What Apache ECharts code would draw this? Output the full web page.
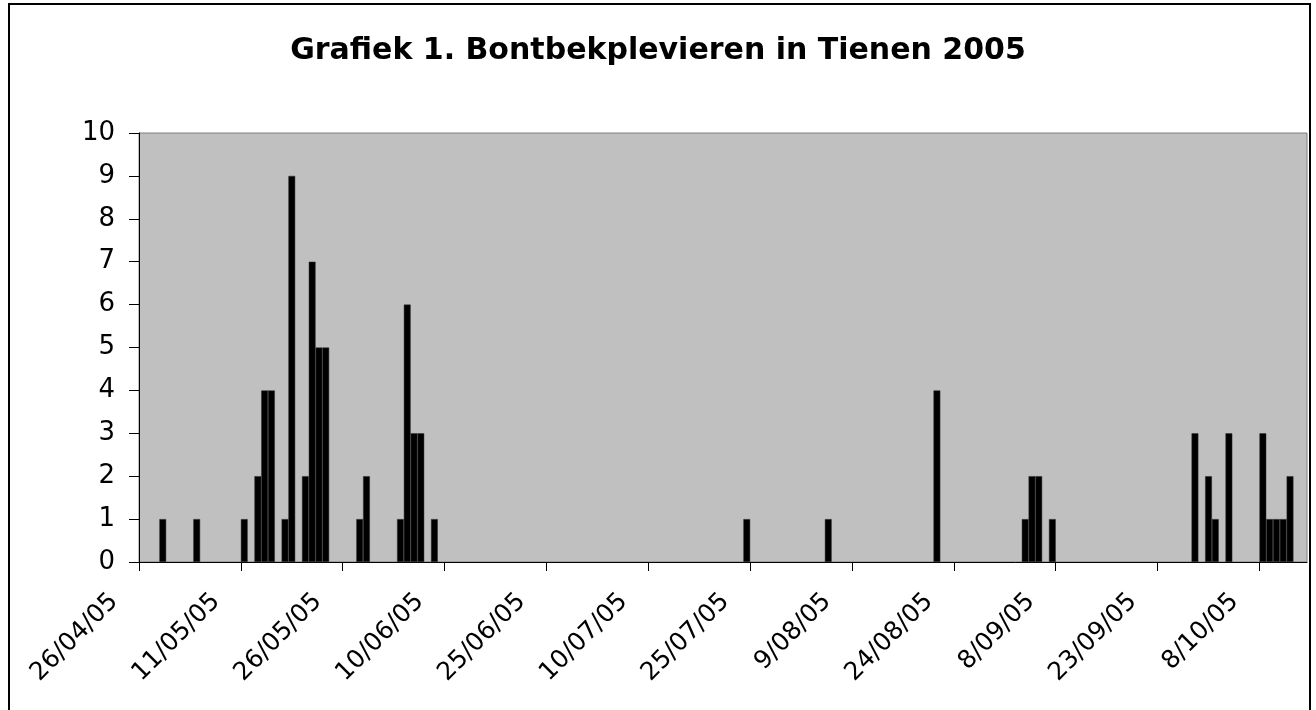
<!DOCTYPE html>
<html>
<head>
<meta charset="utf-8">
<title>Grafiek 1. Bontbekplevieren in Tienen 2005</title>
<script src="https://cdn.jsdelivr.net/npm/echarts@6/dist/echarts.min.js"></script>
<style>
  html, body { margin: 0; padding: 0; background: #fff; }
  #chart { width: 1316px; height: 710px; }
</style>
</head>
<body>
<div id="chart"></div>
<script>
// waarnemingen: datum en aantal vogels
var dates = [
  '2005-04-29', '2005-05-04', '2005-05-11', '2005-05-13', '2005-05-14', '2005-05-15',
  '2005-05-17', '2005-05-18', '2005-05-20', '2005-05-21', '2005-05-22', '2005-05-23',
  '2005-05-28', '2005-05-29', '2005-06-03', '2005-06-04', '2005-06-05', '2005-06-06',
  '2005-06-08', '2005-07-24', '2005-08-05', '2005-08-21', '2005-09-03', '2005-09-04',
  '2005-09-05', '2005-09-07', '2005-09-28', '2005-09-30', '2005-10-01', '2005-10-03',
  '2005-10-08', '2005-10-09', '2005-10-10', '2005-10-11', '2005-10-12'
]
var counts = [
  1, 1, 1, 2, 4, 4,
  1, 9, 2, 7, 5, 5,
  1, 2, 1, 6, 3, 3,
  1, 1, 1, 4, 1, 2,
  2, 1, 3, 2, 1, 3,
  3, 1, 1, 1, 2
]
// labels op de x-as, om de 15 dagen vanaf 26/04/05
var tickLabels = [
  '26/04/05', '11/05/05', '26/05/05', '10/06/05', '25/06/05', '10/07/05',
  '25/07/05', '9/08/05', '24/08/05', '8/09/05', '23/09/05', '8/10/05'
]
var startDate = '2005-04-26'
var DAY = 86400000

function dayIndex(s) {
  return (Date.parse(s) - Date.parse(startDate)) / DAY
}

// elke staaf vult een hele dag, dus midden van de dag
var barData = dates.map(function (d, i) {
  return [dayIndex(d) + 0.5, counts[i]]
})

var font = 'DejaVu Sans'
var chart = echarts.init(document.getElementById('chart'))

chart.setOption({
  animation: false,
  backgroundColor: '#fff',
  title: {
    text: 'Grafiek 1. Bontbekplevieren in Tienen 2005',
    left: 'center',
    top: 36,
    padding: 0,
    textStyle: {
      fontFamily: font,
      fontSize: 30,
      fontWeight: 'bold',
      color: '#000'
    }
  },
  grid: {
    left: 139,
    top: 133,
    right: 9,
    bottom: 148,
    show: true,
    backgroundColor: '#c0c0c0',
    borderColor: '#808080',
    borderWidth: 1
  },
  xAxis: {
    type: 'value',
    min: 0,
    max: 172,
    interval: 15,
    splitLine: {show: false},
    axisLine: {lineStyle: {color: '#000', width: 1}},
    axisTick: {length: 9, lineStyle: {color: '#000'}},
    axisLabel: {
      showMaxLabel: false,
      rotate: 45,
      margin: 11,
      padding: [0, 35, 0, 0],
      fontFamily: font,
      fontSize: 25,
      color: '#000',
      formatter: function (v) {
        return v % 15 === 0 ? (tickLabels[v / 15] || '') : ''
      }
    }
  },
  yAxis: {
    type: 'value',
    min: 0,
    max: 10,
    interval: 1,
    splitLine: {show: false},
    axisLine: {show: true, lineStyle: {color: '#000', width: 1}},
    axisTick: {show: true, length: 10, lineStyle: {color: '#000'}},
    axisLabel: {
      margin: 24,
      fontFamily: font,
      fontSize: 26,
      color: '#000'
    }
  },
  series: [
    {
      type: 'bar',
      data: barData,
      barWidth: 6.8,
      itemStyle: {
        color: '#000',
        borderColor: '#333',
        borderWidth: 0.5
      }
    }
  ],
  graphic: [
    {
      type: 'rect',
      silent: true,
      z: 100,
      shape: {x: 9, y: 4, width: 1301, height: 712},
      style: {fill: null, stroke: '#000', lineWidth: 2}
    }
  ]
})
</script>
</body>
</html>
